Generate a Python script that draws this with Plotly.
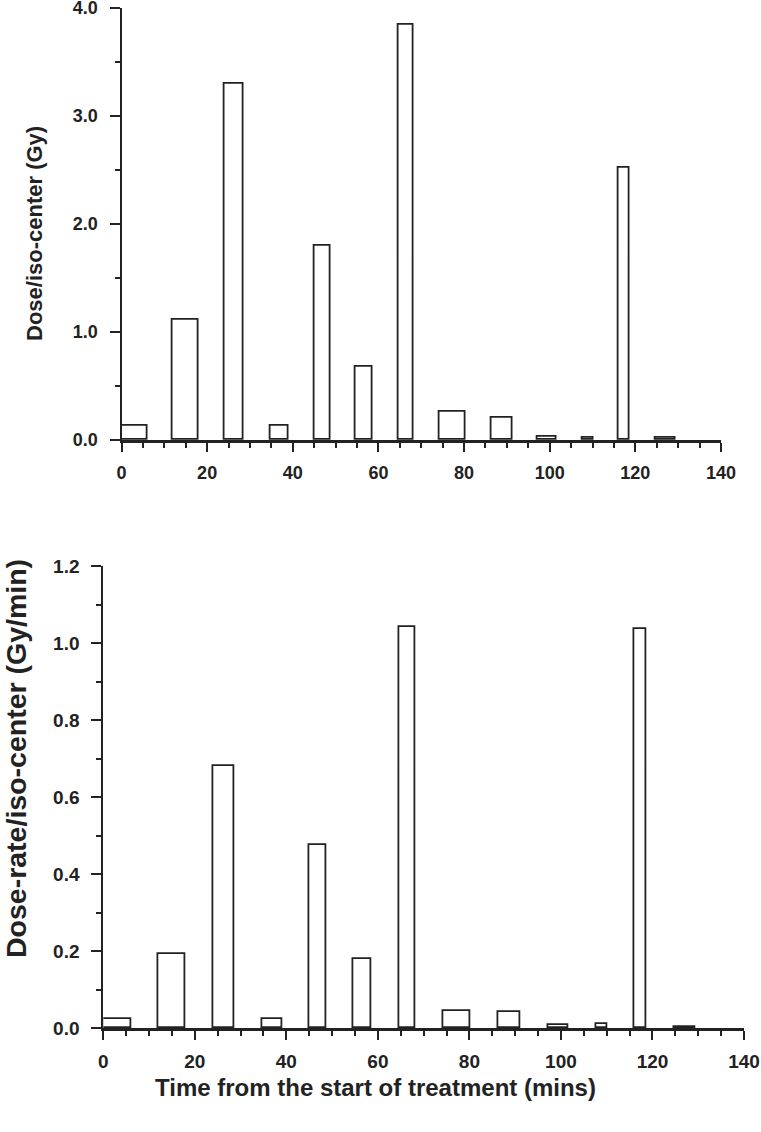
import plotly.graph_objects as go

# Data: delivery intervals (minutes) and values per interval
start_min = [0.0, 12.0, 24.0, 34.7, 45.0, 54.7, 64.6, 74.3, 86.3, 97.2, 107.7, 116.0, 124.7]
end_min = [6.1, 18.0, 28.6, 39.1, 48.8, 58.5, 68.1, 80.3, 91.2, 101.7, 110.2, 118.6, 129.4]
dose_gy = [0.13, 1.11, 3.30, 0.13, 1.80, 0.68, 3.84, 0.26, 0.21, 0.03, 0.02, 2.52, 0.02]
dose_rate = [0.023, 0.192, 0.681, 0.024, 0.475, 0.179, 1.041, 0.045, 0.043, 0.008, 0.011, 1.036, 0.004]

centers = [(s + e) / 2 for s, e in zip(start_min, end_min)]
widths = [e - s for s, e in zip(start_min, end_min)]

W, H = 761, 1132
INK = "#222222"
FONT = "Liberation Sans, Arial, sans-serif"

fig = go.Figure()
bar_style = dict(marker=dict(color="white", line=dict(color=INK, width=1.8)), showlegend=False)
fig.add_trace(go.Bar(x=centers, y=dose_gy, width=widths, xaxis="x", yaxis="y", **bar_style))
fig.add_trace(go.Bar(x=centers, y=dose_rate, width=widths, xaxis="x2", yaxis="y2", **bar_style))

def tf(size):
    return dict(family=FONT, size=size, color=INK, weight="bold")

def xax(domain, anchor, fs, standoff):
    return dict(domain=domain, anchor=anchor, range=[0, 140], dtick=20, tick0=0,
                ticks="outside", ticklen=9, tickwidth=2, tickcolor=INK,
                minor=dict(dtick=5, ticks="outside", ticklen=5, tickwidth=1.8, tickcolor=INK),
                showline=True, linewidth=2.6, linecolor=INK, showgrid=False, zeroline=False,
                tickfont=tf(fs), ticklabelstandoff=standoff, ticklabeloverflow="allow",
                automargin=False, fixedrange=True)

def yax(domain, anchor, rng, dtick, minor_dtick, fs):
    return dict(domain=domain, anchor=anchor, range=rng, dtick=dtick, tick0=0,
                tickformat=".1f", ticks="outside", ticklen=10, tickwidth=2, tickcolor=INK,
                minor=dict(dtick=minor_dtick, ticks="outside", ticklen=5, tickwidth=1.8, tickcolor=INK),
                showline=True, linewidth=2, linecolor=INK, showgrid=False, zeroline=False,
                tickfont=tf(fs), ticklabelstandoff=8, ticklabeloverflow="allow",
                automargin=False, fixedrange=True)

fig.update_layout(
    width=W, height=H,
    margin=dict(l=0, r=0, t=0, b=0),
    paper_bgcolor="white", plot_bgcolor="white",
    bargap=0,
    xaxis=xax([121.5 / W, 721 / W], "y", 18, 6),
    yaxis=yax([1 - 440 / H, 1 - 7.8 / H], "x", [0, 4.0], 1.0, 0.5, 18),
    xaxis2=xax([103.3 / W, 744 / W], "y2", 19, 5),
    yaxis2=yax([1 - 1028.3 / H, 1 - 566 / H], "x2", [0, 1.2], 0.2, 0.1, 19),
    annotations=[
        dict(text="Dose/iso-center (Gy)", xref="paper", yref="paper", x=34 / W, y=1 - 234 / H,
             showarrow=False, textangle=-90, xanchor="center", yanchor="middle",
             font=tf(22)),
        dict(text="Dose-rate/iso-center (Gy/min)", xref="paper", yref="paper", x=16 / W, y=1 - 759 / H,
             showarrow=False, textangle=-90, xanchor="center", yanchor="middle",
             font=tf(28.5)),
        dict(text="Time from the start of treatment (mins)", xref="paper", yref="paper",
             x=375 / W, y=1 - 1087 / H, showarrow=False, xanchor="center", yanchor="middle",
             font=tf(24)),
    ],
)

fig.write_html("out.html", config={"displayModeBar": False},
               post_script="document.body.style.margin='0';")
